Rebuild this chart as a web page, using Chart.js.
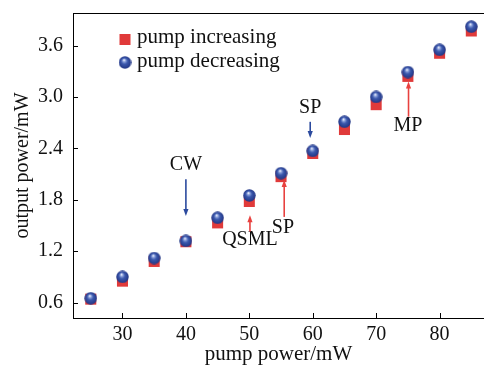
<!DOCTYPE html>
<html>
<head>
<meta charset="utf-8">
<script src="https://cdn.jsdelivr.net/npm/chart.js@4.4.1/dist/chart.umd.min.js"></script>
<style>
    html, body { margin: 0; padding: 0; background: #fff; overflow: hidden; }
    #wrap { width: 484px; height: 370px; position: relative; }
</style>
</head>
<body>
<div id="wrap"><canvas id="chart"></canvas></div>
<script>
// ===== DATA =====
const pumpPower = [25, 30, 35, 40, 45, 50, 55, 60, 65, 70, 75, 80, 85];
const pumpIncreasing = [0.64, 0.85, 1.08, 1.31, 1.53, 1.78, 2.07, 2.34, 2.62, 2.91, 3.24, 3.51, 3.77];
const pumpDecreasing = [0.65, 0.90, 1.12, 1.32, 1.59, 1.85, 2.11, 2.37, 2.71, 3.00, 3.29, 3.55, 3.82];
const xTicks = [30, 40, 50, 60, 70, 80];
const yTicks = [0.6, 1.2, 1.8, 2.4, 3.0, 3.6];

// annotation labels: text at (x, y), arrow along x from y "from" to y "to"
const noteText = ['CW', 'QSML', 'SP', 'SP', 'MP'];
const noteX = [40, 50.1, 55.3, 59.6, 75];
const noteY = [2.21, 1.33, 1.47, 2.87, 2.66];
const arrowX = [40, 50.1, 55.5, 59.6, 75.1];
const arrowFrom = [2.04, 1.43, 1.60, 2.71, 2.77];
const arrowTo = [1.61, 1.62, 2.03, 2.52, 3.18];
const noteColor = ['#2b4a9e', '#e8413f', '#e8413f', '#2b4a9e', '#e8413f'];

const RED = '#e03a3a';
const FONT = '"Liberation Serif", "Times New Roman", serif';

// ===== MARKERS =====
function makeSphere(d) {
    const c = document.createElement('canvas');
    c.width = d; c.height = d;
    const g = c.getContext('2d');
    const r = d / 2;
    const grad = g.createRadialGradient(r - 1, r - 2.5, 0.3, r, r, r);
    grad.addColorStop(0, '#f2f5ff');
    grad.addColorStop(0.18, '#8ea3dc');
    grad.addColorStop(0.45, '#3b58ad');
    grad.addColorStop(1, '#1f3382');
    g.fillStyle = grad;
    g.beginPath();
    g.arc(r, r, r - 0.3, 0, Math.PI * 2);
    g.fill();
    return c;
}
const sphere = makeSphere(13);

// no extra label padding around the plot area
function noPadding(s) {
    s.paddingTop = 0; s.paddingBottom = 0;
    s.paddingLeft = 0; s.paddingRight = 0;
}

// ===== PLUGIN: frame, inward ticks, legend, notes =====
const decorations = {
    id: 'decorations',
    afterDraw(chart) {
        const ctx = chart.ctx;
        const area = chart.chartArea;
        const xs = chart.scales.x;
        const ys = chart.scales.y;
        ctx.save();
        ctx.strokeStyle = '#000';
        ctx.lineWidth = 1;
        // top frame line
        ctx.beginPath();
        ctx.moveTo(area.left, area.top + 0.5);
        ctx.lineTo(area.right, area.top + 0.5);
        ctx.stroke();
        // inward ticks
        ctx.beginPath();
        xTicks.forEach(v => {
            const px = Math.round(xs.getPixelForValue(v)) + 0.5;
            ctx.moveTo(px, area.bottom);
            ctx.lineTo(px, area.bottom - 5);
        });
        yTicks.forEach(v => {
            const py = Math.round(ys.getPixelForValue(v)) + 0.5;
            ctx.moveTo(area.left, py);
            ctx.lineTo(area.left + 5, py);
        });
        ctx.stroke();

        // legend
        const lx = area.left + 52;
        ctx.fillStyle = RED;
        ctx.fillRect(lx - 5.5, area.top + 21, 11, 11);
        ctx.drawImage(sphere, lx - 6.5, area.top + 43);
        ctx.fillStyle = '#111';
        ctx.font = '21px ' + FONT;
        ctx.textAlign = 'left';
        ctx.textBaseline = 'middle';
        ctx.fillText(chart.data.datasets[0].label, lx + 12, area.top + 24);
        ctx.fillText(chart.data.datasets[1].label, lx + 12, area.top + 48);

        // annotations
        ctx.font = '20px ' + FONT;
        ctx.textAlign = 'center';
        noteText.forEach((t, i) => {
            ctx.fillStyle = '#111';
            ctx.fillText(t, xs.getPixelForValue(noteX[i]), ys.getPixelForValue(noteY[i]));
            const ax = xs.getPixelForValue(arrowX[i]);
            const y0 = ys.getPixelForValue(arrowFrom[i]);
            const y1 = ys.getPixelForValue(arrowTo[i]);
            const dir = y1 > y0 ? 1 : -1;
            ctx.strokeStyle = noteColor[i];
            ctx.fillStyle = noteColor[i];
            ctx.lineWidth = 1.6;
            ctx.beginPath();
            ctx.moveTo(ax, y0);
            ctx.lineTo(ax, y1 - dir * 5);
            ctx.stroke();
            ctx.beginPath();
            ctx.moveTo(ax, y1);
            ctx.lineTo(ax - 2.6, y1 - dir * 7);
            ctx.lineTo(ax + 2.6, y1 - dir * 7);
            ctx.closePath();
            ctx.fill();
        });
        ctx.restore();
    }
};

// ===== CHART =====
new Chart(document.getElementById('chart'), {
    type: 'scatter',
    data: {
        datasets: [
            {
                label: 'pump increasing',
                data: pumpPower.map((x, i) => ({ x: x, y: pumpIncreasing[i] })),
                pointStyle: 'rect',
                pointRadius: 7.8,
                backgroundColor: RED,
                borderWidth: 0,
                order: 2
            },
            {
                label: 'pump decreasing',
                data: pumpPower.map((x, i) => ({ x: x, y: pumpDecreasing[i] })),
                pointStyle: sphere,
                pointRadius: 7,
                order: 1
            }
        ]
    },
    options: {
        responsive: true,
        maintainAspectRatio: false,
        animation: false,
        events: [],
        layout: { autoPadding: false, padding: { top: 13, right: 0, left: 0, bottom: 0 } },
        plugins: {
            legend: { display: false },
            tooltip: { enabled: false }
        },
        scales: {
            x: {
                type: 'linear',
                min: 22.2,
                max: 87,
                afterBuildTicks: s => { s.ticks = xTicks.map(v => ({ value: v })); },
                afterFit: s => { s.height = 52; noPadding(s); },
                grid: { display: false, drawTicks: false },
                border: { display: true, color: '#000', width: 1 },
                ticks: {
                    padding: 5,
                    color: '#111',
                    font: { family: FONT, size: 20 },
                    maxRotation: 0,
                    callback: v => v
                },
                title: {
                    display: true,
                    text: 'pump power/mW',
                    color: '#111',
                    font: { family: FONT, size: 21 },
                    padding: { top: 0, bottom: 3 }
                }
            },
            y: {
                type: 'linear',
                min: 0.42,
                max: 3.98,
                afterBuildTicks: s => { s.ticks = yTicks.map(v => ({ value: v })); },
                afterFit: s => { s.width = 73; noPadding(s); },
                grid: { display: false, drawTicks: false },
                border: { display: true, color: '#000', width: 1 },
                ticks: {
                    padding: 10,
                    color: '#111',
                    font: { family: FONT, size: 20 },
                    callback: v => v.toFixed(1)
                },
                title: {
                    display: true,
                    text: 'output power/mW',
                    color: '#111',
                    font: { family: FONT, size: 20 },
                    padding: { top: 11, bottom: 0 }
                }
            }
        }
    },
    plugins: [decorations]
});
</script>
</body>
</html>
